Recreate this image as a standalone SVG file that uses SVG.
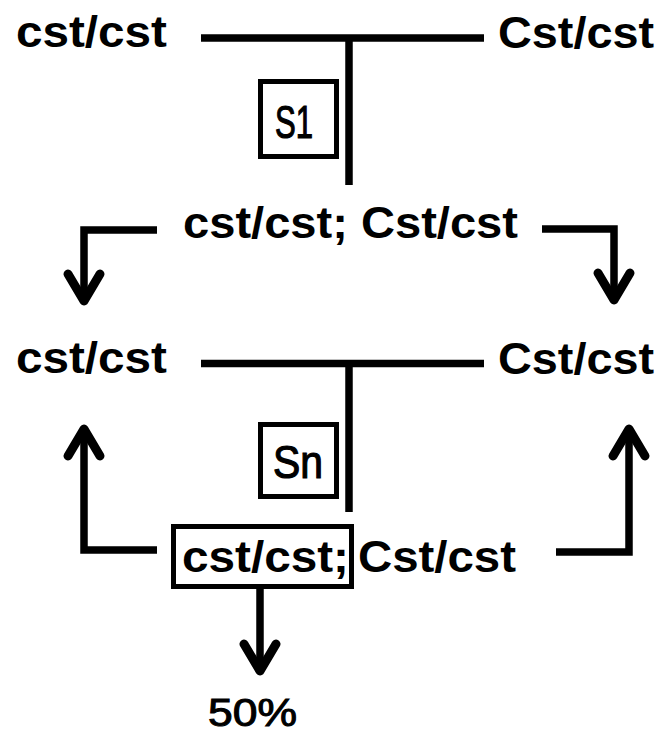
<svg xmlns="http://www.w3.org/2000/svg" width="661" height="733" viewBox="0 0 661 733">
<style>
.t{font-family:"Liberation Sans","DejaVu Sans",sans-serif;font-weight:bold;font-size:44px;fill:#000}
.s{font-family:"Liberation Sans","DejaVu Sans",sans-serif;font-size:46px;fill:#000;stroke:#000;stroke-width:1.2}
.p{font-family:"Liberation Sans","DejaVu Sans",sans-serif;font-size:38px;fill:#000;stroke:#000;stroke-width:1}
.box{fill:none;stroke:#000;stroke-width:5}
.ln{fill:none;stroke:#000;stroke-width:7.5}
.ah{fill:none;stroke:#000;stroke-width:9;stroke-linecap:round;stroke-linejoin:round}
</style>
<rect width="661" height="733" fill="#fff"/>
<g id="connectors">
<line class="ln" x1="201" y1="38" x2="484" y2="38"/>
<line class="ln" x1="349" y1="38" x2="349" y2="185"/>
<path class="ln" d="M157,230 H84 V298"/>
<path class="ah" d="M68,274 L84,301 L100,274"/>
<path class="ln" d="M542,229 H614 V298"/>
<path class="ah" d="M598,273 L614,300 L630,273"/>
<line class="ln" x1="201" y1="363.5" x2="484" y2="363.5"/>
<line class="ln" x1="349" y1="363" x2="349" y2="512"/>
<path class="ln" d="M157,550 H84 V432"/>
<path class="ah" d="M68,456 L84,429 L100,456"/>
<path class="ln" d="M556,552 H629 V432"/>
<path class="ah" d="M613,456 L629,429 L645,456"/>
<line class="ln" x1="260" y1="588" x2="260" y2="668"/>
<path class="ah" d="M244,644 L260,671 L276,644"/>
</g>
<g id="n-top-left"><text class="t" x="16" y="47" textLength="151" lengthAdjust="spacingAndGlyphs">cst/cst</text></g>
<g id="n-top-right"><text class="t" x="498" y="48" textLength="156" lengthAdjust="spacingAndGlyphs">Cst/cst</text></g>
<g id="n-s1"><rect class="box" x="260.5" y="81.5" width="76" height="75"/><text class="s" x="275" y="138" textLength="38" lengthAdjust="spacingAndGlyphs">S1</text></g>
<g id="n-f1"><text class="t" x="183" y="238" textLength="335" lengthAdjust="spacingAndGlyphs">cst/cst; Cst/cst</text></g>
<g id="n-mid-left"><text class="t" x="16" y="373" textLength="151" lengthAdjust="spacingAndGlyphs">cst/cst</text></g>
<g id="n-mid-right"><text class="t" x="498" y="374" textLength="156" lengthAdjust="spacingAndGlyphs">Cst/cst</text></g>
<g id="n-sn"><rect class="box" x="260.5" y="424.5" width="76" height="72"/><text class="s" x="273" y="478" textLength="50" lengthAdjust="spacingAndGlyphs">Sn</text></g>
<g id="n-fn"><rect class="box" x="173.5" y="526.5" width="178" height="60"/><text class="t" x="182" y="572" textLength="167" lengthAdjust="spacingAndGlyphs">cst/cst;</text><text class="t" x="358" y="572" textLength="158" lengthAdjust="spacingAndGlyphs">Cst/cst</text></g>
<g id="n-pct"><text class="p" x="208" y="726" textLength="89" lengthAdjust="spacingAndGlyphs">50%</text></g>
</svg>
